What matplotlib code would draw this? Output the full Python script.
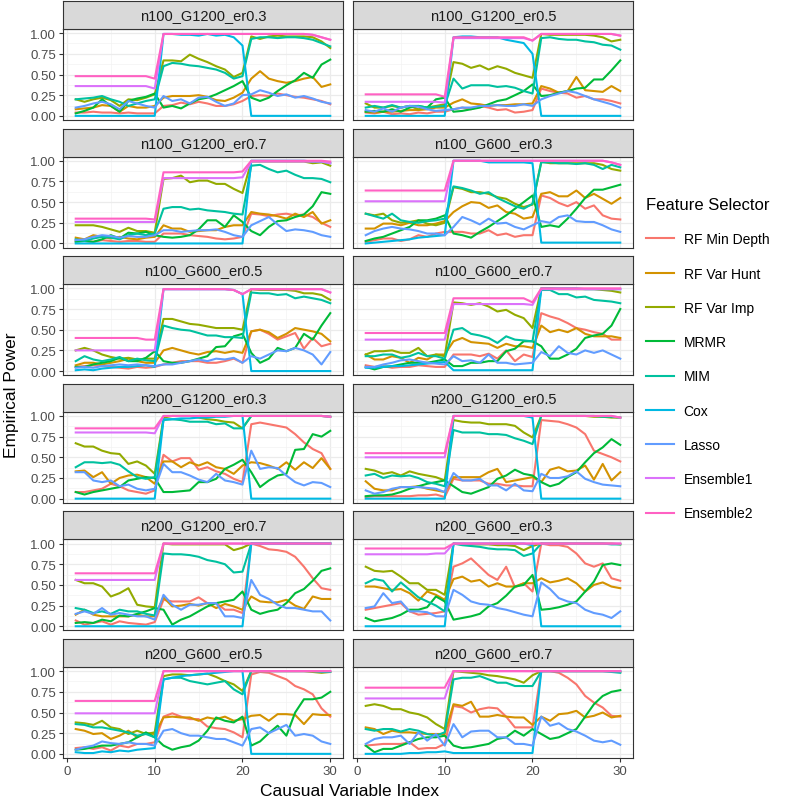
import matplotlib.pyplot as plt
from matplotlib.lines import Line2D
from matplotlib.ticker import StrMethodFormatter

plt.rcParams['font.family'] = ['Liberation Sans', 'DejaVu Sans']

# facet names, in ggplot facet_wrap order (2 columns)
panels = ["n100_G1200_er0.3", "n100_G1200_er0.5", "n100_G1200_er0.7",
          "n100_G600_er0.3", "n100_G600_er0.5", "n100_G600_er0.7",
          "n200_G1200_er0.3", "n200_G1200_er0.5", "n200_G1200_er0.7",
          "n200_G600_er0.3", "n200_G600_er0.5", "n200_G600_er0.7"]

selectors = ["RF Min Depth", "RF Var Hunt", "RF Var Imp", "MRMR", "MIM",
             "Cox", "Lasso", "Ensemble1", "Ensemble2"]
colors = ["#F8766D", "#D39200", "#93AA00", "#00BA38", "#00C19F",
          "#00B9E3", "#619CFF", "#DB72FB", "#FF61C3"]

xs = list(range(1, 31))

# one row per panel, 30 causal variables each
rf_min_depth = [
    [0.04, 0.04, 0.05, 0.04, 0.04, 0.03, 0.04, 0.03, 0.03, 0.03, 0.12, 0.13, 0.16, 0.14, 0.17, 0.15, 0.12, 0.12, 0.14, 0.18, 0.24, 0.25, 0.24, 0.27, 0.25, 0.23, 0.22, 0.2, 0.18, 0.14],
    [0.04, 0.03, 0.05, 0.02, 0.03, 0.02, 0.04, 0.03, 0.05, 0.05, 0.08, 0.1, 0.08, 0.12, 0.1, 0.07, 0.08, 0.04, 0.05, 0.07, 0.33, 0.3, 0.28, 0.27, 0.22, 0.24, 0.2, 0.2, 0.18, 0.15],
    [0.03, 0.03, 0.02, 0.04, 0.03, 0.02, 0.03, 0.03, 0.02, 0.02, 0.12, 0.12, 0.12, 0.1, 0.09, 0.08, 0.06, 0.05, 0.06, 0.08, 0.36, 0.35, 0.33, 0.35, 0.36, 0.34, 0.35, 0.32, 0.25, 0.2],
    [0.02, 0.04, 0.06, 0.06, 0.03, 0.05, 0.1, 0.08, 0.12, 0.14, 0.14, 0.14, 0.12, 0.12, 0.16, 0.1, 0.12, 0.08, 0.1, 0.1, 0.58, 0.55, 0.49, 0.45, 0.5, 0.42, 0.46, 0.34, 0.3, 0.29],
    [0.05, 0.06, 0.07, 0.06, 0.05, 0.04, 0.03, 0.05, 0.04, 0.05, 0.08, 0.1, 0.12, 0.12, 0.12, 0.1, 0.1, 0.12, 0.15, 0.1, 0.48, 0.5, 0.45, 0.38, 0.42, 0.46, 0.27, 0.4, 0.3, 0.33],
    [0.07, 0.05, 0.06, 0.04, 0.05, 0.05, 0.07, 0.06, 0.05, 0.05, 0.2, 0.2, 0.2, 0.18, 0.21, 0.15, 0.25, 0.12, 0.2, 0.17, 0.7, 0.66, 0.63, 0.58, 0.52, 0.5, 0.47, 0.45, 0.38, 0.38],
    [0.08, 0.08, 0.1, 0.12, 0.18, 0.15, 0.1, 0.08, 0.06, 0.1, 0.53, 0.45, 0.49, 0.49, 0.35, 0.38, 0.33, 0.3, 0.24, 0.2, 0.9, 0.92, 0.9, 0.88, 0.86, 0.78, 0.68, 0.6, 0.55, 0.36],
    [0.02, 0.03, 0.03, 0.03, 0.03, 0.03, 0.04, 0.04, 0.05, 0.02, 0.24, 0.22, 0.22, 0.22, 0.18, 0.18, 0.16, 0.16, 0.15, 0.15, 0.95, 0.94, 0.93, 0.9, 0.86, 0.78, 0.58, 0.54, 0.5, 0.45],
    [0.07, 0.02, 0.04, 0.06, 0.02, 0.06, 0.04, 0.03, 0.02, 0.05, 0.32, 0.3, 0.3, 0.3, 0.35, 0.28, 0.28, 0.2, 0.2, 0.16, 1.0, 0.97, 0.93, 0.92, 0.9, 0.84, 0.72, 0.58, 0.46, 0.44],
    [0.2, 0.22, 0.24, 0.26, 0.28, 0.18, 0.14, 0.15, 0.16, 0.18, 0.72, 0.76, 0.82, 0.72, 0.62, 0.56, 0.72, 0.47, 0.52, 0.42, 1.0, 0.98, 0.98, 0.96, 0.88, 0.76, 0.72, 0.76, 0.58, 0.55],
    [0.07, 0.08, 0.06, 0.08, 0.04, 0.1, 0.08, 0.12, 0.12, 0.14, 0.45, 0.49, 0.45, 0.42, 0.42, 0.33, 0.31, 0.3, 0.26, 0.2, 0.96, 0.99, 0.98, 0.94, 0.9, 0.82, 0.78, 0.72, 0.55, 0.45],
    [0.1, 0.11, 0.12, 0.12, 0.12, 0.14, 0.06, 0.07, 0.07, 0.12, 0.58, 0.56, 0.5, 0.54, 0.56, 0.55, 0.45, 0.32, 0.32, 0.32, 1.0, 1.0, 0.98, 0.92, 0.84, 0.7, 0.62, 0.56, 0.46, 0.45],
]

rf_var_hunt = [
    [0.08, 0.09, 0.1, 0.13, 0.12, 0.05, 0.12, 0.1, 0.1, 0.12, 0.22, 0.24, 0.24, 0.24, 0.25, 0.23, 0.19, 0.18, 0.22, 0.28, 0.45, 0.54, 0.45, 0.42, 0.4, 0.42, 0.45, 0.47, 0.35, 0.38],
    [0.05, 0.04, 0.05, 0.05, 0.06, 0.07, 0.07, 0.08, 0.1, 0.1, 0.16, 0.2, 0.15, 0.14, 0.12, 0.13, 0.13, 0.14, 0.14, 0.15, 0.36, 0.33, 0.28, 0.3, 0.47, 0.31, 0.3, 0.29, 0.36, 0.3],
    [0.07, 0.05, 0.1, 0.08, 0.06, 0.08, 0.06, 0.05, 0.07, 0.08, 0.22, 0.18, 0.18, 0.14, 0.15, 0.16, 0.16, 0.2, 0.22, 0.22, 0.38, 0.36, 0.35, 0.33, 0.3, 0.36, 0.32, 0.38, 0.24, 0.28],
    [0.18, 0.18, 0.24, 0.24, 0.22, 0.25, 0.22, 0.22, 0.24, 0.27, 0.38, 0.45, 0.5, 0.49, 0.43, 0.46, 0.38, 0.36, 0.3, 0.32, 0.6, 0.62, 0.57, 0.57, 0.64, 0.55, 0.6, 0.54, 0.48, 0.55],
    [0.07, 0.1, 0.1, 0.08, 0.1, 0.12, 0.15, 0.12, 0.1, 0.1, 0.25, 0.28, 0.25, 0.22, 0.2, 0.23, 0.24, 0.22, 0.24, 0.22, 0.48, 0.5, 0.47, 0.4, 0.45, 0.52, 0.5, 0.48, 0.45, 0.36],
    [0.2, 0.14, 0.14, 0.18, 0.16, 0.1, 0.16, 0.14, 0.2, 0.2, 0.36, 0.4, 0.35, 0.34, 0.33, 0.28, 0.33, 0.3, 0.3, 0.28, 0.55, 0.47, 0.5, 0.47, 0.52, 0.45, 0.42, 0.42, 0.42, 0.4],
    [0.33, 0.34, 0.26, 0.32, 0.18, 0.25, 0.28, 0.29, 0.26, 0.18, 0.45, 0.45, 0.38, 0.44, 0.4, 0.44, 0.38, 0.36, 0.3, 0.4, 0.44, 0.43, 0.4, 0.36, 0.44, 0.35, 0.44, 0.37, 0.49, 0.36],
    [0.21, 0.12, 0.1, 0.1, 0.14, 0.14, 0.15, 0.12, 0.1, 0.08, 0.26, 0.26, 0.26, 0.26, 0.32, 0.36, 0.2, 0.22, 0.24, 0.26, 0.2, 0.35, 0.38, 0.33, 0.34, 0.4, 0.23, 0.42, 0.22, 0.32],
    [0.14, 0.2, 0.14, 0.12, 0.12, 0.12, 0.12, 0.14, 0.12, 0.12, 0.35, 0.24, 0.25, 0.27, 0.25, 0.28, 0.22, 0.27, 0.24, 0.2, 0.36, 0.3, 0.29, 0.29, 0.32, 0.25, 0.21, 0.36, 0.33, 0.33],
    [0.48, 0.48, 0.46, 0.44, 0.45, 0.4, 0.31, 0.42, 0.38, 0.32, 0.57, 0.6, 0.54, 0.56, 0.48, 0.52, 0.48, 0.48, 0.52, 0.52, 0.58, 0.53, 0.55, 0.58, 0.52, 0.42, 0.5, 0.53, 0.48, 0.46],
    [0.3, 0.28, 0.24, 0.25, 0.18, 0.22, 0.28, 0.2, 0.25, 0.24, 0.44, 0.45, 0.44, 0.44, 0.4, 0.44, 0.42, 0.45, 0.4, 0.42, 0.46, 0.47, 0.4, 0.48, 0.48, 0.47, 0.36, 0.48, 0.47, 0.47],
    [0.32, 0.3, 0.24, 0.28, 0.26, 0.26, 0.25, 0.24, 0.24, 0.24, 0.6, 0.58, 0.63, 0.45, 0.45, 0.47, 0.45, 0.44, 0.44, 0.35, 0.45, 0.4, 0.48, 0.49, 0.52, 0.44, 0.46, 0.5, 0.44, 0.46],
]

rf_var_imp = [
    [0.2, 0.17, 0.2, 0.22, 0.19, 0.12, 0.2, 0.19, 0.22, 0.26, 0.67, 0.67, 0.66, 0.74, 0.69, 0.65, 0.6, 0.56, 0.47, 0.52, 0.96, 0.93, 0.96, 0.97, 0.96, 0.96, 0.96, 0.95, 0.9, 0.82],
    [0.15, 0.1, 0.1, 0.12, 0.1, 0.12, 0.08, 0.1, 0.12, 0.14, 0.65, 0.63, 0.58, 0.61, 0.56, 0.6, 0.57, 0.52, 0.49, 0.46, 0.99, 0.98, 0.98, 0.98, 0.98, 0.98, 0.97, 0.95, 0.9, 0.92],
    [0.22, 0.22, 0.22, 0.2, 0.17, 0.14, 0.19, 0.15, 0.15, 0.13, 0.78, 0.79, 0.82, 0.74, 0.76, 0.76, 0.72, 0.72, 0.66, 0.61, 0.99, 0.99, 0.99, 0.99, 0.99, 0.99, 0.99, 0.97, 0.98, 0.94],
    [0.36, 0.34, 0.36, 0.28, 0.25, 0.26, 0.28, 0.24, 0.22, 0.25, 0.68, 0.66, 0.62, 0.62, 0.6, 0.56, 0.54, 0.48, 0.44, 0.47, 0.99, 0.97, 0.97, 0.97, 0.97, 0.97, 0.97, 0.95, 0.9, 0.88],
    [0.25, 0.28, 0.25, 0.2, 0.17, 0.15, 0.16, 0.14, 0.15, 0.15, 0.63, 0.63, 0.6, 0.57, 0.56, 0.54, 0.52, 0.52, 0.52, 0.5, 0.99, 0.98, 0.98, 0.98, 0.98, 0.97, 0.94, 0.94, 0.92, 0.86],
    [0.2, 0.24, 0.24, 0.25, 0.22, 0.22, 0.28, 0.18, 0.2, 0.18, 0.83, 0.82, 0.8, 0.82, 0.78, 0.72, 0.74, 0.68, 0.64, 0.52, 1.0, 1.0, 0.99, 0.99, 0.99, 0.99, 0.99, 0.98, 0.97, 0.95],
    [0.67, 0.63, 0.63, 0.58, 0.55, 0.54, 0.42, 0.45, 0.4, 0.3, 0.98, 1.0, 1.0, 1.0, 0.98, 0.96, 0.95, 0.93, 0.92, 0.85, 1.0, 1.0, 1.0, 1.0, 1.0, 1.0, 1.0, 1.0, 1.0, 0.99],
    [0.36, 0.34, 0.3, 0.32, 0.28, 0.33, 0.3, 0.28, 0.26, 0.22, 0.95, 0.93, 0.92, 0.92, 0.9, 0.9, 0.9, 0.88, 0.8, 0.74, 1.0, 1.0, 1.0, 1.0, 1.0, 1.0, 0.99, 0.99, 0.98, 0.98],
    [0.56, 0.52, 0.52, 0.48, 0.36, 0.4, 0.46, 0.26, 0.24, 0.23, 1.0, 0.99, 0.99, 0.99, 0.99, 0.99, 0.99, 0.99, 0.92, 0.95, 1.0, 1.0, 1.0, 1.0, 1.0, 1.0, 1.0, 1.0, 1.0, 1.0],
    [0.72, 0.67, 0.66, 0.67, 0.6, 0.52, 0.52, 0.44, 0.44, 0.38, 1.0, 0.99, 0.99, 0.99, 0.99, 0.98, 0.98, 0.97, 0.92, 0.97, 1.0, 1.0, 1.0, 1.0, 1.0, 1.0, 1.0, 1.0, 1.0, 0.99],
    [0.38, 0.37, 0.35, 0.4, 0.32, 0.3, 0.24, 0.28, 0.24, 0.26, 0.94, 0.96, 0.96, 0.95, 0.96, 0.97, 0.93, 0.88, 0.84, 0.76, 1.0, 1.0, 1.0, 1.0, 1.0, 1.0, 1.0, 0.99, 0.98, 0.99],
    [0.58, 0.6, 0.58, 0.54, 0.54, 0.5, 0.48, 0.44, 0.36, 0.3, 1.0, 0.99, 0.98, 0.97, 0.95, 0.94, 0.92, 0.9, 0.86, 0.95, 1.0, 1.0, 1.0, 1.0, 1.0, 1.0, 1.0, 1.0, 1.0, 0.99],
]

mrmr = [
    [0.03, 0.06, 0.1, 0.2, 0.12, 0.05, 0.18, 0.21, 0.23, 0.27, 0.1, 0.12, 0.09, 0.15, 0.2, 0.22, 0.26, 0.31, 0.36, 0.42, 0.22, 0.18, 0.22, 0.3, 0.37, 0.43, 0.52, 0.46, 0.62, 0.68],
    [0.05, 0.06, 0.05, 0.08, 0.05, 0.1, 0.12, 0.1, 0.2, 0.22, 0.05, 0.06, 0.08, 0.1, 0.14, 0.18, 0.2, 0.25, 0.3, 0.38, 0.24, 0.25, 0.28, 0.3, 0.33, 0.34, 0.44, 0.44, 0.55, 0.67],
    [0.02, 0.03, 0.02, 0.05, 0.1, 0.06, 0.13, 0.12, 0.14, 0.1, 0.08, 0.07, 0.08, 0.1, 0.17, 0.28, 0.28, 0.2, 0.34, 0.26, 0.15, 0.1, 0.2, 0.27, 0.28, 0.32, 0.35, 0.45, 0.62, 0.6],
    [0.03, 0.06, 0.08, 0.12, 0.16, 0.2, 0.28, 0.28, 0.3, 0.34, 0.12, 0.1, 0.07, 0.14, 0.2, 0.27, 0.34, 0.42, 0.5, 0.58, 0.2, 0.22, 0.2, 0.3, 0.42, 0.55, 0.65, 0.65, 0.68, 0.71],
    [0.05, 0.05, 0.08, 0.1, 0.12, 0.16, 0.12, 0.12, 0.16, 0.24, 0.12, 0.1, 0.1, 0.12, 0.15, 0.18, 0.29, 0.3, 0.42, 0.45, 0.22, 0.1, 0.15, 0.28, 0.24, 0.28, 0.45, 0.38, 0.55, 0.7],
    [0.05, 0.02, 0.05, 0.06, 0.08, 0.1, 0.1, 0.1, 0.12, 0.14, 0.06, 0.06, 0.1, 0.1, 0.12, 0.12, 0.24, 0.27, 0.36, 0.36, 0.3, 0.15, 0.15, 0.2, 0.27, 0.4, 0.43, 0.45, 0.55, 0.75],
    [0.08, 0.05, 0.08, 0.1, 0.12, 0.14, 0.22, 0.24, 0.26, 0.25, 0.08, 0.08, 0.09, 0.1, 0.2, 0.2, 0.24, 0.36, 0.41, 0.47, 0.32, 0.14, 0.22, 0.28, 0.3, 0.59, 0.6, 0.78, 0.75, 0.82],
    [0.03, 0.04, 0.04, 0.05, 0.08, 0.12, 0.15, 0.18, 0.2, 0.22, 0.15, 0.08, 0.06, 0.1, 0.14, 0.24, 0.28, 0.35, 0.3, 0.28, 0.2, 0.15, 0.18, 0.26, 0.32, 0.44, 0.55, 0.62, 0.72, 0.65],
    [0.04, 0.05, 0.04, 0.08, 0.06, 0.13, 0.12, 0.15, 0.18, 0.22, 0.2, 0.02, 0.08, 0.12, 0.18, 0.24, 0.28, 0.3, 0.32, 0.42, 0.2, 0.15, 0.18, 0.2, 0.28, 0.4, 0.45, 0.55, 0.67, 0.7],
    [0.1, 0.06, 0.08, 0.1, 0.14, 0.2, 0.2, 0.23, 0.36, 0.3, 0.08, 0.1, 0.12, 0.15, 0.24, 0.28, 0.37, 0.48, 0.5, 0.62, 0.2, 0.21, 0.23, 0.26, 0.3, 0.42, 0.54, 0.74, 0.76, 0.74],
    [0.05, 0.06, 0.08, 0.1, 0.1, 0.12, 0.14, 0.2, 0.26, 0.2, 0.1, 0.05, 0.08, 0.1, 0.16, 0.28, 0.44, 0.4, 0.38, 0.45, 0.1, 0.15, 0.25, 0.34, 0.22, 0.5, 0.66, 0.66, 0.68, 0.75],
    [0.1, 0.02, 0.06, 0.06, 0.1, 0.14, 0.18, 0.2, 0.2, 0.22, 0.1, 0.07, 0.08, 0.1, 0.12, 0.18, 0.2, 0.28, 0.22, 0.3, 0.24, 0.18, 0.2, 0.25, 0.3, 0.45, 0.6, 0.7, 0.75, 0.77],
]

mim = [
    [0.2, 0.21, 0.22, 0.24, 0.2, 0.17, 0.12, 0.15, 0.18, 0.2, 0.6, 0.64, 0.63, 0.61, 0.6, 0.58, 0.56, 0.52, 0.45, 0.48, 0.93, 0.95, 0.95, 0.94, 0.95, 0.95, 0.94, 0.92, 0.88, 0.84],
    [0.1, 0.12, 0.1, 0.13, 0.1, 0.12, 0.12, 0.1, 0.11, 0.12, 0.45, 0.33, 0.37, 0.37, 0.37, 0.35, 0.36, 0.34, 0.3, 0.27, 0.94, 0.95, 0.93, 0.92, 0.92, 0.9, 0.89, 0.86, 0.85, 0.8],
    [0.05, 0.03, 0.06, 0.08, 0.07, 0.05, 0.1, 0.12, 0.1, 0.12, 0.42, 0.44, 0.44, 0.41, 0.42, 0.4, 0.39, 0.38, 0.36, 0.35, 0.94, 0.95, 0.9, 0.86, 0.88, 0.83, 0.79, 0.79, 0.78, 0.74],
    [0.36, 0.33, 0.3, 0.36, 0.28, 0.26, 0.25, 0.27, 0.28, 0.3, 0.69, 0.67, 0.64, 0.6, 0.62, 0.55, 0.5, 0.45, 0.42, 0.48, 0.98, 0.98, 0.97, 0.97, 0.96, 0.97, 0.95, 0.9, 0.95, 0.92],
    [0.12, 0.18, 0.14, 0.12, 0.14, 0.17, 0.12, 0.15, 0.13, 0.12, 0.55, 0.52, 0.5, 0.49, 0.46, 0.43, 0.43, 0.41, 0.41, 0.4, 0.95, 0.94, 0.94, 0.92, 0.93, 0.88, 0.9, 0.88, 0.86, 0.82],
    [0.18, 0.18, 0.2, 0.2, 0.16, 0.18, 0.22, 0.18, 0.18, 0.15, 0.5, 0.52, 0.45, 0.43, 0.4, 0.34, 0.42, 0.38, 0.37, 0.36, 0.98, 0.98, 0.93, 0.93, 0.89, 0.9, 0.86, 0.85, 0.84, 0.82],
    [0.38, 0.44, 0.44, 0.43, 0.44, 0.41, 0.33, 0.26, 0.24, 0.26, 0.95, 0.96, 0.95, 0.93, 0.93, 0.93, 0.9, 0.91, 0.85, 0.85, 1.0, 1.0, 1.0, 1.0, 1.0, 1.0, 1.0, 1.0, 1.0, 0.99],
    [0.28, 0.3, 0.25, 0.28, 0.27, 0.28, 0.25, 0.2, 0.18, 0.15, 0.83, 0.8, 0.8, 0.8, 0.78, 0.78, 0.77, 0.73, 0.7, 0.66, 1.0, 1.0, 1.0, 1.0, 1.0, 1.0, 1.0, 0.99, 0.99, 0.98],
    [0.22, 0.2, 0.16, 0.18, 0.15, 0.2, 0.18, 0.18, 0.15, 0.13, 0.88, 0.87, 0.87, 0.86, 0.84, 0.8, 0.78, 0.75, 0.65, 0.66, 1.0, 1.0, 1.0, 1.0, 1.0, 1.0, 1.0, 1.0, 1.0, 1.0],
    [0.52, 0.57, 0.55, 0.42, 0.53, 0.44, 0.35, 0.3, 0.25, 0.18, 1.0, 0.98, 0.97, 0.96, 0.94, 0.93, 0.93, 0.92, 0.85, 0.88, 1.0, 1.0, 1.0, 1.0, 1.0, 1.0, 1.0, 1.0, 0.99, 0.99],
    [0.36, 0.35, 0.32, 0.32, 0.3, 0.28, 0.26, 0.22, 0.24, 0.2, 0.9, 0.92, 0.92, 0.88, 0.86, 0.84, 0.86, 0.88, 0.78, 0.72, 1.0, 1.0, 1.0, 1.0, 1.0, 1.0, 1.0, 1.0, 0.99, 0.99],
    [0.3, 0.28, 0.3, 0.3, 0.27, 0.3, 0.28, 0.24, 0.22, 0.26, 0.9, 0.92, 0.92, 0.94, 0.9, 0.86, 0.86, 0.82, 0.82, 0.82, 1.0, 1.0, 1.0, 1.0, 1.0, 1.0, 1.0, 1.0, 0.99, 0.98],
]

cox = [
    [0, 0, 0, 0, 0, 0, 0, 0, 0, 0, 0.99, 0.99, 0.98, 0.98, 0.97, 0.99, 0.97, 0.98, 0.95, 0.85, 0, 0, 0, 0, 0, 0, 0, 0, 0, 0],
    [0, 0, 0, 0, 0, 0, 0, 0, 0, 0, 0.95, 0.96, 0.96, 0.95, 0.95, 0.95, 0.92, 0.9, 0.88, 0.75, 0, 0, 0, 0, 0, 0, 0, 0, 0, 0],
    [0, 0, 0, 0, 0, 0, 0, 0, 0, 0, 0, 0, 0, 0, 0, 0, 0, 0, 0, 0, 1.0, 1.0, 1.0, 1.0, 1.0, 1.0, 1.0, 0.99, 0.99, 0.97],
    [0.0, 0.01, 0.02, 0.03, 0.04, 0.05, 0.07, 0.08, 0.09, 0.1, 1.0, 1.0, 1.0, 1.0, 0.98, 0.98, 0.98, 0.98, 0.98, 0.97, 0.01, 0.01, 0.01, 0.01, 0.01, 0.01, 0.01, 0.01, 0.01, 0.01],
    [0.01, 0.02, 0.01, 0.03, 0.04, 0.05, 0.05, 0.06, 0.07, 0.05, 0.99, 0.99, 0.99, 0.99, 0.99, 0.99, 0.99, 0.99, 0.98, 0.93, 0, 0, 0, 0, 0, 0, 0, 0, 0, 0],
    [0.04, 0.04, 0.05, 0.06, 0.06, 0.07, 0.08, 0.09, 0.1, 0.11, 0.01, 0.01, 0.01, 0.01, 0.01, 0.01, 0.01, 0.01, 0.01, 0.01, 1.0, 1.0, 1.0, 1.0, 1.0, 0.99, 0.99, 0.99, 0.99, 0.99],
    [0, 0, 0, 0, 0, 0, 0, 0, 0, 0, 0.96, 0.96, 0.97, 0.97, 0.98, 0.98, 0.99, 0.99, 1.0, 1.0, 0, 0, 0, 0, 0, 0, 0, 0, 0, 0],
    [0, 0, 0, 0, 0, 0, 0, 0, 0, 0, 1.0, 1.0, 1.0, 1.0, 1.0, 1.0, 1.0, 1.0, 1.0, 0.98, 0, 0, 0, 0, 0, 0, 0, 0, 0, 0],
    [0, 0, 0, 0, 0, 0, 0, 0, 0, 0, 0, 0, 0, 0, 0, 0, 0, 0, 0, 0, 1.0, 1.0, 1.0, 1.0, 1.0, 1.0, 1.0, 1.0, 1.0, 1.0],
    [0, 0, 0, 0, 0, 0, 0, 0, 0, 0, 1.0, 1.0, 1.0, 1.0, 1.0, 1.0, 1.0, 1.0, 1.0, 0.98, 0, 0, 0, 0, 0, 0, 0, 0, 0, 0],
    [0.02, 0.01, 0.01, 0.03, 0.02, 0.04, 0.03, 0.05, 0.06, 0.07, 0.9, 0.92, 0.94, 0.95, 0.96, 0.97, 0.98, 0.99, 1.0, 1.0, 0, 0, 0, 0, 0, 0, 0, 0, 0, 0],
    [0, 0, 0, 0, 0, 0.01, 0.01, 0.02, 0.02, 0.03, 0.01, 0.01, 0.01, 0.01, 0.01, 0.01, 0.01, 0.01, 0.01, 0.01, 1.0, 1.0, 1.0, 1.0, 1.0, 1.0, 1.0, 1.0, 1.0, 1.0],
]

lasso = [
    [0.1, 0.12, 0.15, 0.17, 0.14, 0.08, 0.18, 0.15, 0.12, 0.1, 0.24, 0.18, 0.2, 0.15, 0.22, 0.23, 0.17, 0.12, 0.15, 0.25, 0.26, 0.31, 0.28, 0.24, 0.26, 0.22, 0.24, 0.21, 0.17, 0.15],
    [0.07, 0.05, 0.09, 0.05, 0.1, 0.12, 0.11, 0.08, 0.06, 0.07, 0.08, 0.1, 0.1, 0.12, 0.12, 0.13, 0.12, 0.12, 0.14, 0.12, 0.2, 0.24, 0.27, 0.3, 0.28, 0.24, 0.2, 0.17, 0.14, 0.1],
    [0.04, 0.05, 0.08, 0.1, 0.09, 0.07, 0.09, 0.08, 0.08, 0.1, 0.16, 0.16, 0.14, 0.15, 0.16, 0.16, 0.17, 0.14, 0.1, 0.08, 0.22, 0.27, 0.32, 0.23, 0.15, 0.17, 0.16, 0.14, 0.1, 0.08],
    [0.1, 0.15, 0.18, 0.2, 0.18, 0.17, 0.15, 0.12, 0.12, 0.1, 0.2, 0.32, 0.28, 0.23, 0.3, 0.24, 0.25, 0.2, 0.17, 0.22, 0.27, 0.25, 0.32, 0.34, 0.27, 0.26, 0.26, 0.22, 0.17, 0.14],
    [0.04, 0.05, 0.04, 0.06, 0.07, 0.08, 0.07, 0.08, 0.07, 0.06, 0.08, 0.08, 0.1, 0.12, 0.14, 0.12, 0.15, 0.14, 0.16, 0.1, 0.18, 0.15, 0.2, 0.25, 0.24, 0.28, 0.25, 0.2, 0.08, 0.23],
    [0.05, 0.05, 0.08, 0.1, 0.13, 0.14, 0.12, 0.1, 0.09, 0.08, 0.18, 0.12, 0.13, 0.1, 0.2, 0.1, 0.1, 0.08, 0.09, 0.1, 0.23, 0.18, 0.3, 0.22, 0.2, 0.25, 0.22, 0.25, 0.2, 0.15],
    [0.32, 0.32, 0.22, 0.2, 0.22, 0.15, 0.17, 0.12, 0.1, 0.12, 0.42, 0.32, 0.32, 0.28, 0.23, 0.2, 0.3, 0.22, 0.2, 0.17, 0.58, 0.36, 0.38, 0.37, 0.28, 0.2, 0.16, 0.2, 0.19, 0.14],
    [0.1, 0.06, 0.08, 0.12, 0.14, 0.14, 0.14, 0.13, 0.12, 0.08, 0.31, 0.22, 0.22, 0.24, 0.16, 0.16, 0.1, 0.18, 0.1, 0.09, 0.3, 0.25, 0.25, 0.27, 0.33, 0.24, 0.2, 0.17, 0.16, 0.15],
    [0.15, 0.18, 0.15, 0.22, 0.14, 0.16, 0.14, 0.12, 0.12, 0.08, 0.38, 0.26, 0.2, 0.26, 0.26, 0.28, 0.28, 0.12, 0.12, 0.1, 0.56, 0.38, 0.33, 0.26, 0.22, 0.22, 0.2, 0.18, 0.18, 0.07],
    [0.22, 0.24, 0.4, 0.28, 0.3, 0.18, 0.18, 0.17, 0.12, 0.12, 0.44, 0.38, 0.3, 0.27, 0.26, 0.22, 0.2, 0.17, 0.14, 0.12, 0.53, 0.45, 0.34, 0.3, 0.28, 0.2, 0.16, 0.14, 0.1, 0.18],
    [0.05, 0.08, 0.1, 0.15, 0.13, 0.12, 0.14, 0.12, 0.12, 0.1, 0.28, 0.3, 0.25, 0.22, 0.22, 0.2, 0.18, 0.18, 0.14, 0.1, 0.3, 0.32, 0.25, 0.3, 0.35, 0.22, 0.24, 0.22, 0.15, 0.12],
    [0.12, 0.18, 0.2, 0.2, 0.22, 0.12, 0.26, 0.16, 0.24, 0.1, 0.36, 0.2, 0.27, 0.28, 0.28, 0.2, 0.2, 0.12, 0.12, 0.1, 0.45, 0.34, 0.37, 0.3, 0.27, 0.22, 0.16, 0.14, 0.16, 0.11],
]

ensemble1 = [
    [0.36, 0.36, 0.36, 0.36, 0.36, 0.36, 0.36, 0.36, 0.36, 0.33, 0.99, 0.99, 0.99, 0.99, 0.99, 0.99, 0.99, 0.99, 0.99, 0.99, 0.99, 0.99, 0.99, 0.99, 0.99, 0.99, 0.99, 0.98, 0.95, 0.92],
    [0.17, 0.17, 0.17, 0.17, 0.17, 0.17, 0.17, 0.17, 0.17, 0.16, 0.94, 0.94, 0.94, 0.94, 0.94, 0.94, 0.94, 0.94, 0.94, 0.91, 0.99, 0.99, 0.99, 0.99, 0.99, 0.99, 0.99, 0.99, 0.99, 0.97],
    [0.26, 0.26, 0.26, 0.26, 0.26, 0.26, 0.26, 0.26, 0.26, 0.26, 0.79, 0.79, 0.79, 0.79, 0.79, 0.79, 0.79, 0.79, 0.79, 0.8, 0.99, 0.99, 0.99, 0.99, 0.99, 0.99, 0.99, 0.99, 0.99, 0.97],
    [0.51, 0.51, 0.51, 0.51, 0.51, 0.51, 0.51, 0.51, 0.51, 0.51, 1.0, 1.0, 1.0, 1.0, 1.0, 1.0, 1.0, 1.0, 1.0, 1.0, 1.0, 1.0, 1.0, 1.0, 1.0, 1.0, 1.0, 1.0, 0.98, 0.95],
    [0.25, 0.25, 0.25, 0.25, 0.25, 0.25, 0.25, 0.25, 0.25, 0.25, 0.99, 0.99, 0.99, 0.99, 0.99, 0.99, 0.99, 0.99, 0.98, 0.93, 0.99, 0.99, 0.99, 0.99, 0.99, 0.99, 0.99, 0.99, 0.99, 0.95],
    [0.38, 0.38, 0.38, 0.38, 0.38, 0.38, 0.38, 0.38, 0.38, 0.38, 0.81, 0.81, 0.81, 0.81, 0.81, 0.81, 0.81, 0.81, 0.81, 0.8, 0.99, 0.99, 0.99, 0.99, 0.99, 0.99, 0.99, 0.99, 0.99, 0.99],
    [0.8, 0.8, 0.8, 0.8, 0.8, 0.8, 0.8, 0.8, 0.8, 0.79, 1.0, 1.0, 1.0, 1.0, 1.0, 1.0, 1.0, 1.0, 1.0, 1.0, 1.0, 1.0, 1.0, 1.0, 1.0, 1.0, 1.0, 1.0, 1.0, 0.99],
    [0.5, 0.5, 0.5, 0.5, 0.5, 0.5, 0.5, 0.5, 0.5, 0.5, 1.0, 1.0, 1.0, 1.0, 1.0, 1.0, 1.0, 1.0, 1.0, 1.0, 1.0, 1.0, 1.0, 1.0, 1.0, 1.0, 1.0, 1.0, 1.0, 0.98],
    [0.56, 0.56, 0.56, 0.56, 0.56, 0.56, 0.56, 0.56, 0.56, 0.56, 1.0, 1.0, 1.0, 1.0, 1.0, 1.0, 1.0, 1.0, 1.0, 1.0, 1.0, 1.0, 1.0, 1.0, 1.0, 1.0, 1.0, 1.0, 1.0, 1.0],
    [0.87, 0.87, 0.87, 0.87, 0.87, 0.87, 0.87, 0.87, 0.88, 0.88, 1.0, 1.0, 1.0, 1.0, 1.0, 1.0, 1.0, 1.0, 1.0, 1.0, 1.0, 1.0, 1.0, 1.0, 1.0, 1.0, 1.0, 1.0, 1.0, 1.0],
    [0.49, 0.49, 0.49, 0.49, 0.49, 0.49, 0.49, 0.49, 0.49, 0.49, 1.0, 1.0, 1.0, 1.0, 1.0, 1.0, 1.0, 1.0, 1.0, 1.0, 1.0, 1.0, 1.0, 1.0, 1.0, 1.0, 1.0, 1.0, 1.0, 1.0],
    [0.67, 0.67, 0.67, 0.67, 0.67, 0.67, 0.67, 0.67, 0.67, 0.67, 1.0, 1.0, 1.0, 1.0, 1.0, 1.0, 1.0, 1.0, 1.0, 1.0, 1.0, 1.0, 1.0, 1.0, 1.0, 1.0, 1.0, 1.0, 1.0, 1.0],
]

ensemble2 = [
    [0.48, 0.48, 0.48, 0.48, 0.48, 0.48, 0.48, 0.48, 0.48, 0.45, 0.99, 0.99, 0.99, 0.99, 0.99, 0.99, 0.99, 0.99, 0.99, 0.99, 0.99, 0.99, 0.99, 0.99, 0.99, 0.99, 0.99, 0.98, 0.95, 0.92],
    [0.26, 0.26, 0.26, 0.26, 0.26, 0.26, 0.26, 0.26, 0.26, 0.23, 0.95, 0.95, 0.95, 0.95, 0.95, 0.95, 0.95, 0.95, 0.95, 0.91, 0.99, 0.99, 0.99, 0.99, 0.99, 0.99, 0.99, 0.99, 0.99, 0.97],
    [0.3, 0.3, 0.3, 0.3, 0.3, 0.3, 0.3, 0.3, 0.3, 0.29, 0.86, 0.86, 0.86, 0.86, 0.86, 0.86, 0.86, 0.86, 0.86, 0.87, 1.0, 1.0, 1.0, 1.0, 1.0, 1.0, 1.0, 1.0, 1.0, 0.99],
    [0.64, 0.64, 0.64, 0.64, 0.64, 0.64, 0.64, 0.64, 0.64, 0.64, 1.0, 1.0, 1.0, 1.0, 1.0, 1.0, 1.0, 1.0, 1.0, 1.0, 1.0, 1.0, 1.0, 1.0, 1.0, 1.0, 1.0, 1.0, 0.98, 0.95],
    [0.4, 0.4, 0.4, 0.4, 0.4, 0.4, 0.4, 0.4, 0.38, 0.38, 0.99, 0.99, 0.99, 0.99, 0.99, 0.99, 0.99, 0.99, 0.98, 0.93, 0.99, 0.99, 0.99, 0.99, 0.99, 0.99, 0.99, 0.99, 0.99, 0.95],
    [0.46, 0.46, 0.46, 0.46, 0.46, 0.46, 0.46, 0.46, 0.46, 0.46, 0.88, 0.88, 0.88, 0.88, 0.88, 0.88, 0.88, 0.88, 0.88, 0.83, 1.0, 1.0, 1.0, 1.0, 1.0, 1.0, 1.0, 1.0, 1.0, 1.0],
    [0.85, 0.85, 0.85, 0.85, 0.85, 0.85, 0.85, 0.85, 0.85, 0.85, 1.0, 1.0, 1.0, 1.0, 1.0, 1.0, 1.0, 1.0, 1.0, 1.0, 1.0, 1.0, 1.0, 1.0, 1.0, 1.0, 1.0, 1.0, 1.0, 0.99],
    [0.55, 0.55, 0.55, 0.55, 0.55, 0.55, 0.55, 0.55, 0.55, 0.55, 1.0, 1.0, 1.0, 1.0, 1.0, 1.0, 1.0, 1.0, 1.0, 1.0, 1.0, 1.0, 1.0, 1.0, 1.0, 1.0, 1.0, 1.0, 1.0, 0.98],
    [0.64, 0.64, 0.64, 0.64, 0.64, 0.64, 0.64, 0.64, 0.64, 0.64, 1.0, 1.0, 1.0, 1.0, 1.0, 1.0, 1.0, 1.0, 1.0, 1.0, 1.0, 1.0, 1.0, 1.0, 1.0, 1.0, 1.0, 1.0, 1.0, 1.0],
    [0.94, 0.94, 0.94, 0.94, 0.94, 0.94, 0.94, 0.94, 0.94, 0.94, 1.0, 1.0, 1.0, 1.0, 1.0, 1.0, 1.0, 1.0, 1.0, 1.0, 1.0, 1.0, 1.0, 1.0, 1.0, 1.0, 1.0, 1.0, 1.0, 1.0],
    [0.64, 0.64, 0.64, 0.64, 0.64, 0.64, 0.64, 0.64, 0.64, 0.64, 1.0, 1.0, 1.0, 1.0, 1.0, 1.0, 1.0, 1.0, 1.0, 1.0, 1.0, 1.0, 1.0, 1.0, 1.0, 1.0, 1.0, 1.0, 1.0, 1.0],
    [0.8, 0.8, 0.8, 0.8, 0.8, 0.8, 0.8, 0.8, 0.8, 0.8, 1.0, 1.0, 1.0, 1.0, 1.0, 1.0, 1.0, 1.0, 1.0, 1.0, 1.0, 1.0, 1.0, 1.0, 1.0, 1.0, 1.0, 1.0, 1.0, 1.0],
]

all_series = [rf_min_depth, rf_var_hunt, rf_var_imp, mrmr, mim,
              cox, lasso, ensemble1, ensemble2]

# figure laid out in pixels like the ggplot original
W, H = 796, 804
fig = plt.figure(figsize=(W / 100, H / 100), dpi=100)


def px_axes(x, top, w, h):
    return fig.add_axes([x / W, 1 - (top + h) / H, w / W, h / H])


col_left = [63, 353]
pw, ph = 280, 91
strip_h = 28
pitch = 127.6
border = '#333333'

for i, name in enumerate(panels):
    r, c = divmod(i, 2)
    top = 30 + r * pitch
    ax = px_axes(col_left[c], top, pw, ph)
    ax.set_xlim(-0.45, 31.45)
    ax.set_ylim(-0.05, 1.05)
    ax.set_xticks([0, 10, 20, 30])
    ax.set_xticks([5, 15, 25], minor=True)
    ax.set_yticks([0, 0.25, 0.5, 0.75, 1.0])
    ax.set_yticks([0.125, 0.375, 0.625, 0.875], minor=True)
    ax.yaxis.set_major_formatter(StrMethodFormatter('{x:.2f}'))
    ax.grid(which='major', color='#EBEBEB', lw=0.9)
    ax.grid(which='minor', color='#F3F3F3', lw=0.5)
    ax.set_axisbelow(True)

    for data, col in zip(all_series, colors):
        ax.plot(xs, data[i], color=col, lw=1.5, solid_joinstyle='round')

    for sp in ax.spines.values():
        sp.set_color(border)
        sp.set_linewidth(0.8)
    ax.tick_params(which='minor', length=0)
    ax.tick_params(which='major', length=3, width=0.8, color=border,
                   labelcolor='#4D4D4D', labelsize=9.5, pad=2)
    if c == 1:
        ax.tick_params(axis='y', left=False, labelleft=False)
    if r < 5:
        ax.tick_params(axis='x', bottom=False, labelbottom=False)

    strip = px_axes(col_left[c], top - strip_h, pw, strip_h)
    strip.set_facecolor('#D9D9D9')
    strip.set_xticks([])
    strip.set_yticks([])
    for sp in strip.spines.values():
        sp.set_color(border)
        sp.set_linewidth(0.8)
    strip.text(0.5, 0.5, name, ha='center', va='center', fontsize=10.5,
               color='#1A1A1A', transform=strip.transAxes)

fig.text(12 / W, 1 - 395 / H, 'Empirical Power', rotation=90,
         ha='center', va='center', fontsize=12.5)
fig.text(350 / W, 1 - 792 / H, 'Causual Variable Index',
         ha='center', va='center', fontsize=12.5)

handles = [Line2D([], [], color=col, lw=1.5) for col in colors]
fig.legend(handles, selectors, title='Feature Selector', loc='upper left',
           bbox_to_anchor=(646 / W, 1 - 198 / H), frameon=False,
           fontsize=10, title_fontsize=12, handlelength=2.0,
           handletextpad=0.7, labelspacing=1.46, alignment='left',
           borderaxespad=0, borderpad=0)

fig.savefig('out.png', dpi=100)
